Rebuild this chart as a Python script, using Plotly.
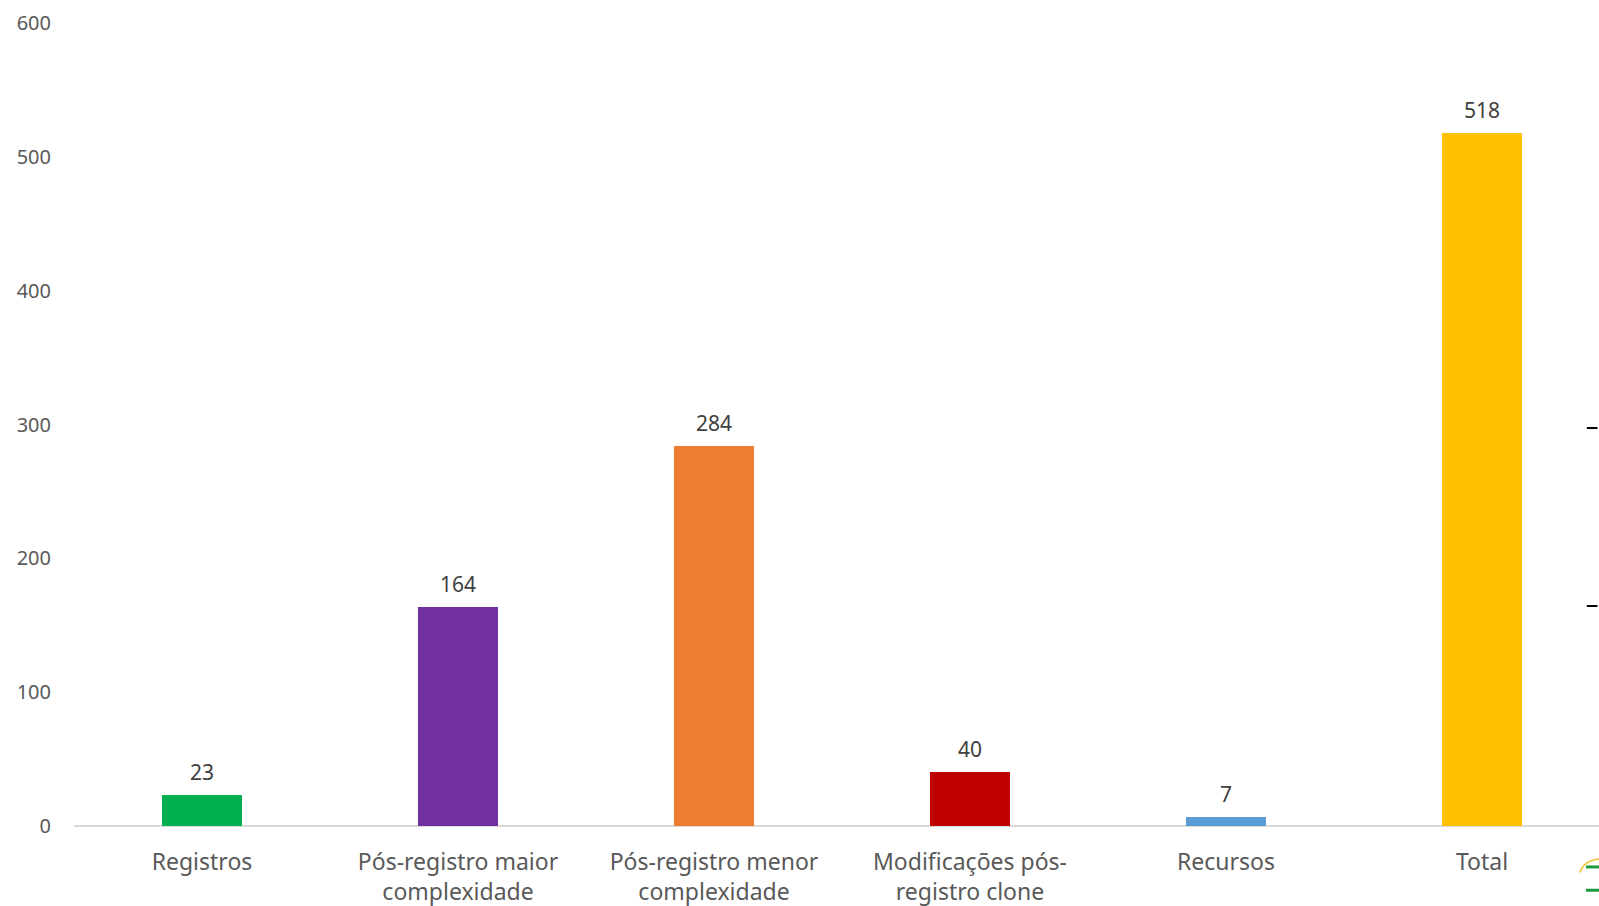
import plotly.graph_objects as go

categories = ["Registros", "Pós-registro maior<br>complexidade", "Pós-registro menor<br>complexidade",
              "Modificações pós-<br>registro clone", "Recursos", "Total"]
values = [23, 164, 284, 40, 7, 518]
colors = ["#00B050", "#7030A0", "#ED7D31", "#C00000", "#5B9BD5", "#FFC000"]
y_ticks = [0, 100, 200, 300, 400, 500, 600]

FONT = "Noto Sans"
x_idx = list(range(len(categories)))

fig = go.Figure()
fig.add_trace(go.Bar(x=x_idx, y=values, marker_color=colors, width=0.315,
                     marker_line_width=0, hoverinfo="skip"))

for i, v in zip(x_idx, values):
    fig.add_annotation(x=i, y=v, text=str(v), showarrow=False, yanchor="bottom",
                       yshift=7, font=dict(family=FONT, size=21, color="#404040"))

# slide artefacts on right edge (dashes and partial logo)
for yy in [0.4956, 0.274]:
    fig.add_shape(type="line", xref="paper", yref="paper", x0=0.992, x1=0.999, y0=yy, y1=yy,
                  line=dict(color="#000000", width=2))
for yy in [-0.051, -0.080]:
    fig.add_shape(type="line", xref="paper", yref="paper", x0=0.9915, x1=1.0, y0=yy, y1=yy,
                  line=dict(color="#1A9A3A", width=3))
fig.add_shape(type="path", xref="paper", yref="paper",
              path="M 0.9875,-0.058 Q 0.990,-0.043 1.0,-0.041",
              line=dict(color="#F2C12E", width=1.5))

fig.update_layout(
    width=1599, height=906, autosize=False,
    margin=dict(l=74, r=0, t=23, b=80),
    paper_bgcolor="white", plot_bgcolor="white",
    showlegend=False,
    bargap=0,
    xaxis=dict(range=[-0.5, 5.457], tickmode="array", tickvals=x_idx, ticktext=categories,
               showgrid=False, zeroline=False, showline=False, ticks="",
               tickfont=dict(family=FONT, size=23, color="#595959"), ticklabelstandoff=20),
    yaxis=dict(range=[0, 600], tickmode="array", tickvals=y_ticks, showgrid=False,
               zeroline=True, zerolinecolor="#D9D9D9", zerolinewidth=2, showline=False, ticks="",
               tickfont=dict(family=FONT, size=20, color="#595959"), ticklabelstandoff=22),
)

fig.write_html("out.html")
